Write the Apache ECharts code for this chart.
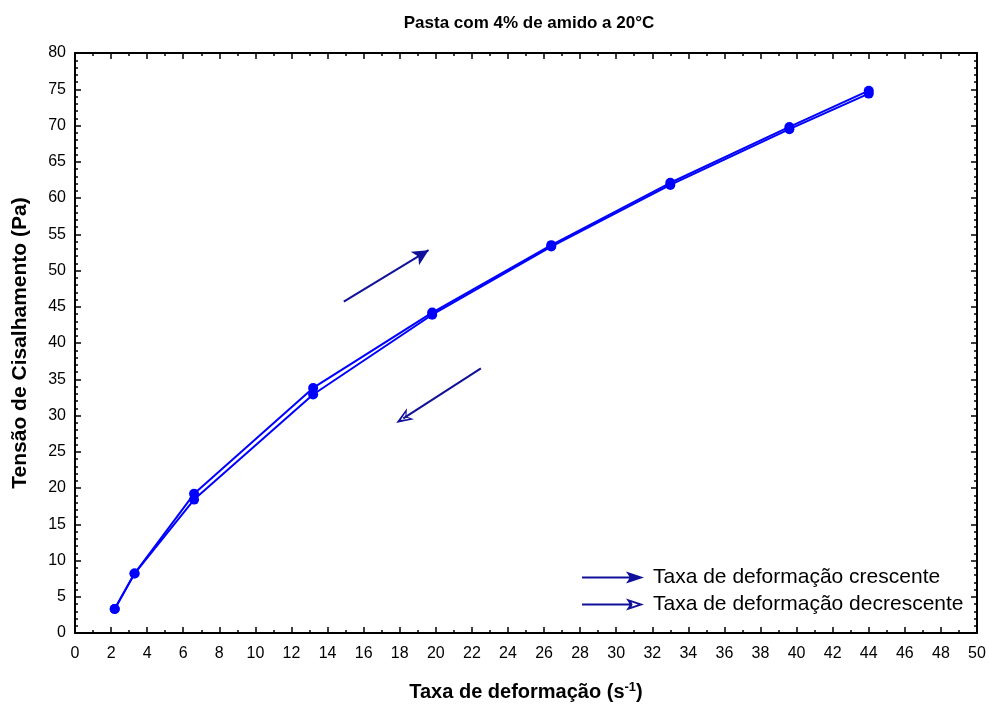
<!DOCTYPE html>
<html>
<head>
<meta charset="utf-8">
<script src="https://cdn.jsdelivr.net/npm/echarts@6/dist/echarts.min.js"></script>
<style>
  html, body { margin: 0; padding: 0; background: #fff; }
  #chart { width: 989px; height: 707px; }
</style>
</head>
<body>
<div id="chart"></div>
<script>
// Shear rate (s^-1) at each measurement step
const shearRate = [2.2, 3.3, 6.6, 13.2, 19.8, 26.4, 33.0, 39.6, 44.0];
// Shear stress (Pa), increasing-rate sweep
const stressUp = [3.3, 8.2, 19.2, 33.8, 44.2, 53.5, 62.1, 69.8, 74.8];
// Shear stress (Pa), decreasing-rate sweep
const stressDown = [3.3, 8.2, 18.4, 32.9, 43.9, 53.3, 61.8, 69.5, 74.4];

const seriesNames = ['Taxa de deformação crescente', 'Taxa de deformação decrescente'];

// Direction arrows inside the plot (data coordinates)
const arrowUp = [[14.9, 45.7], [19.6, 52.8]];
const arrowDown = [[22.5, 36.5], [18.2, 29.6]];

const navy = '#10109a';
const blue = '#0000ff';
const FONT = 'Liberation Sans, Arial, sans-serif';

// Arrow-shaped legend icons: filled head and open head
const iconFilled = 'path://M0,5 L50,5 L50,7 L0,7 Z M44,0 L62,6 L44,12 L48,6 Z';
const iconOpen = 'path://M0,5 L48,5 L48,7 L0,7 Z M44,0 L62,6 L44,12 L48,6 Z M49.5,8.2 L56,6 L49.5,3.8 L50.6,6 Z';
// Arrowheads for the in-plot arrows (pointing up, rotated along the line)
const headFilled = 'arrow';
const headOpen = 'path://M6,0 L12,14 L6,10 L0,14 Z M6,4.5 L2.6,11.2 L6,8.8 L9.4,11.2 Z';

const pairs = (xs, ys) => xs.map((x, i) => [x, ys[i]]);

const axisFont = { fontFamily: FONT, fontSize: 16, color: '#000' };
const lineAxis = { onZero: false, lineStyle: { color: '#000', width: 2 } };
const majorTick = { inside: true, length: 6, lineStyle: { color: '#000', width: 1.5 } };
const minorX = { show: true, splitNumber: 2, length: 3, lineStyle: { color: '#000', width: 1.5 } };
const minorY = { show: true, splitNumber: 5, length: 3, lineStyle: { color: '#000', width: 1.5 } };

const chart = echarts.init(document.getElementById('chart'), null, { renderer: 'canvas' });

chart.setOption({
  animation: false,
  backgroundColor: '#fff',
  title: {
    text: 'Pasta com 4% de amido a 20°C',
    left: 524,
    textAlign: 'center',
    top: 10,
    textStyle: { fontFamily: FONT, fontSize: 17, fontWeight: 'bold', color: '#000' }
  },
  grid: { left: 75, right: 12, top: 53, bottom: 71, containLabel: false },
  legend: {
    left: 577,
    top: 562,
    orient: 'vertical',
    itemWidth: 64,
    itemHeight: 12,
    itemGap: 6,
    textStyle: { fontFamily: FONT, fontSize: 21, color: '#000', padding: [0, 0, 0, 3] },
    data: [
      { name: seriesNames[0], icon: iconFilled, itemStyle: { color: navy } },
      { name: seriesNames[1], icon: iconOpen, itemStyle: { color: navy } }
    ]
  },
  xAxis: [
    {
      type: 'value', min: 0, max: 50, interval: 2,
      axisLine: lineAxis,
      axisTick: majorTick,
      minorTick: minorX,
      axisLabel: Object.assign({ margin: 13 }, axisFont),
      splitLine: { show: false },
      name: 'Taxa de deformação (s{sup|-1})',
      nameLocation: 'middle',
      nameGap: 48,
      nameTextStyle: {
        fontFamily: FONT, fontSize: 20, fontWeight: 'bold', color: '#000',
        rich: { sup: { fontFamily: FONT, fontSize: 13, fontWeight: 'bold', verticalAlign: 'top', padding: [0, 0, 9, 0], color: '#000' } }
      }
    },
    {
      type: 'value', min: 0, max: 50, interval: 2, position: 'top',
      axisLine: lineAxis,
      axisTick: majorTick,
      minorTick: minorX,
      axisLabel: { show: false },
      splitLine: { show: false }
    }
  ],
  yAxis: [
    {
      type: 'value', min: 0, max: 80, interval: 5,
      axisLine: lineAxis,
      axisTick: majorTick,
      minorTick: minorY,
      axisLabel: Object.assign({ margin: 9 }, axisFont),
      splitLine: { show: false },
      name: 'Tensão de Cisalhamento (Pa)',
      nameLocation: 'middle',
      nameGap: 44,
      nameTextStyle: { fontFamily: FONT, fontSize: 21, fontWeight: 'bold', color: '#000' }
    },
    {
      type: 'value', min: 0, max: 80, interval: 5, position: 'right',
      axisLine: lineAxis,
      axisTick: majorTick,
      minorTick: minorY,
      axisLabel: { show: false },
      splitLine: { show: false }
    }
  ],
  series: [
    {
      name: seriesNames[0],
      type: 'line',
      data: pairs(shearRate, stressUp),
      symbol: 'circle',
      symbolSize: 10,
      lineStyle: { color: blue, width: 2 },
      itemStyle: { color: blue },
      z: 3,
      markLine: {
        silent: true,
        symbol: ['none', headFilled],
        symbolSize: [12, 16],
        label: { show: false },
        lineStyle: { color: navy, width: 2, type: 'solid' },
        data: [[{ coord: arrowUp[0] }, { coord: arrowUp[1] }]]
      }
    },
    {
      name: seriesNames[1],
      type: 'line',
      data: pairs(shearRate, stressDown),
      symbol: 'circle',
      symbolSize: 10,
      lineStyle: { color: blue, width: 2 },
      itemStyle: { color: blue },
      z: 3,
      markLine: {
        silent: true,
        symbol: ['none', headOpen],
        symbolSize: [13, 17],
        label: { show: false },
        lineStyle: { color: navy, width: 2, type: 'solid' },
        data: [[{ coord: arrowDown[0] }, { coord: arrowDown[1] }]]
      }
    }
  ]
});
</script>
</body>
</html>
